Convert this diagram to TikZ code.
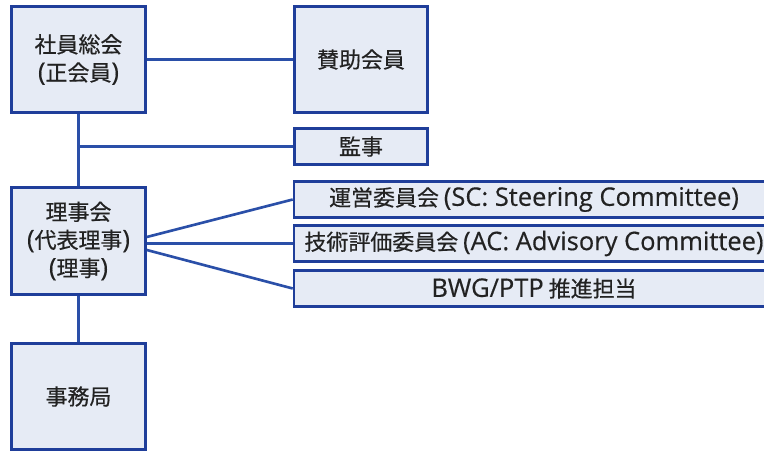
\documentclass[tikz,border=0pt]{standalone}
\usepackage{fontspec}
\setmainfont{Noto Sans CJK JP}[FakeBold=0.5]
\newfontfamily\latinfont{Open Sans}[Scale=1.16, FakeBold=0.4]
\newcommand{\lat}[1]{{\latinfont #1}}
\definecolor{boxline}{HTML}{1F3E9A}
\definecolor{boxfill}{HTML}{E6EBF5}
\definecolor{linkline}{HTML}{2A4FA8}
\definecolor{txt}{HTML}{222222}
\tikzset{
    box/.style={draw=boxline, fill=boxfill, line width=1.5pt, text=txt, align=center,
        inner sep=0pt, font=\fontsize{12.5}{16}\selectfont},
    bigbox/.style={box, minimum width=2.68cm, minimum height=2.12cm},
    slimbox/.style={box, minimum height=0.72cm},
    link/.style={draw=linkline, line width=1.5pt}
}
\begin{document}
\begin{tikzpicture}[x=0.02cm,y=-0.02cm]
    \useasboundingbox (0,0) rectangle (764,452);
    \node[bigbox] (sokai) at (78.5,59.5) {社員総会\\\lat{(}正会員\lat{)}};%総会
    \node[bigbox, minimum width=2.66cm] (sanjo) at (361,59.5) {賛助会員};
    \node[slimbox, minimum width=2.66cm] (kanji) at (361,146.5) {監事};
    \node[bigbox, minimum height=2.14cm] (rijikai) at (78.5,241) {理事会\\\lat{(}代表理事\lat{)}\\\lat{(}理事\lat{)}};
    \node[bigbox] (jimu) at (78.5,396.5) {事務局};
    \node[slimbox, minimum width=9.6cm] (unei) at (534,199.5) {運営委員会 \lat{(SC: Steering Committee)}};
    \node[slimbox, minimum width=9.6cm] (gijutsu) at (534,243.5) {技術評価委員会 \lat{(AC: Advisory Committee)}};
    \node[slimbox, minimum width=9.6cm] (bwg) at (534,288.5) {\lat{BWG/PTP} 推進担当};
    \draw[link] (sokai) -- (sanjo);
    \draw[link] (sokai) -- (rijikai);
    \draw[link] (sokai.south |- kanji.west) -- (kanji.west);
    \draw[link] (rijikai) -- (jimu);
    \draw[link] ([yshift=0.08cm]rijikai.east) -- (unei.west);%理事会から委員会へ
    \draw[link] (rijikai.east |- gijutsu.west) -- (gijutsu.west);
    \draw[link] ([yshift=-0.18cm]rijikai.east) -- (bwg.west);
\end{tikzpicture}
\end{document}
